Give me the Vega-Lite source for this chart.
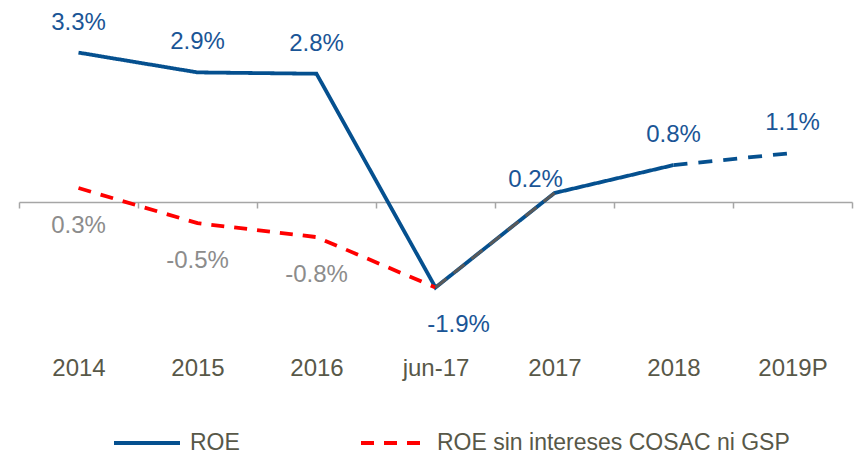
{
  "$schema": "https://vega.github.io/schema/vega-lite/v6.json",
  "width": 833,
  "height": 292.5,
  "autosize": {"type": "none"},
  "padding": {"left": 19, "top": 22, "right": 9, "bottom": 145.5},
  "background": "white",
  "config": {"view": {"stroke": null}, "font": "Liberation Sans"},
  "data": {"values": [
    {"i": 0, "cat": "2014", "series": "ROE", "value": 3.32, "label": "3.3%"},
    {"i": 1, "cat": "2015", "series": "ROE", "value": 2.88, "label": "2.9%"},
    {"i": 2, "cat": "2016", "series": "ROE", "value": 2.85, "label": "2.8%"},
    {"i": 3, "cat": "jun-17", "series": "ROE", "value": -1.9, "label": "-1.9%"},
    {"i": 4, "cat": "2017", "series": "ROE", "value": 0.2, "label": "0.2%"},
    {"i": 5, "cat": "2018", "series": "ROE", "value": 0.82, "label": "0.8%"},
    {"i": 6, "cat": "2019P", "series": "ROE", "value": 1.09, "label": "1.1%"},
    {"i": 0, "cat": "2014", "series": "ROE sin intereses COSAC ni GSP", "value": 0.31, "label": "0.3%"},
    {"i": 1, "cat": "2015", "series": "ROE sin intereses COSAC ni GSP", "value": -0.47, "label": "-0.5%"},
    {"i": 2, "cat": "2016", "series": "ROE sin intereses COSAC ni GSP", "value": -0.78, "label": "-0.8%"},
    {"i": 3, "cat": "jun-17", "series": "ROE sin intereses COSAC ni GSP", "value": -1.9, "label": ""},
    {"i": 4, "cat": "2017", "series": "ROE sin intereses COSAC ni GSP", "value": 0.2, "label": ""}
  ]},
  "encoding": {
    "x": {
      "field": "cat", "type": "ordinal",
      "sort": ["2014", "2015", "2016", "jun-17", "2017", "2018", "2019P"],
      "scale": {"type": "band", "paddingInner": 0, "paddingOuter": 0},
      "axis": {
        "title": null, "orient": "bottom", "offset": -112.5, "tickBand": "extent",
        "domainColor": "#A6A6A6", "domainWidth": 1.5, "tickColor": "#A6A6A6", "tickWidth": 1.5, "tickSize": 6,
        "labelFontSize": 24, "labelColor": "#585848", "labelPadding": 148, "labelAngle": 0, "grid": false
      }
    },
    "y": {
      "field": "value", "type": "quantitative",
      "scale": {"domain": [-2.5, 4], "nice": false, "zero": false},
      "axis": null
    }
  },
  "layer": [
    {
      "transform": [{"filter": "(datum.series == 'ROE' && datum.cat != '2019P') || (datum.series != 'ROE' && datum.cat != '2017')"}],
      "mark": {"type": "line", "strokeWidth": 3.8},
      "encoding": {
        "order": {"field": "i", "type": "quantitative"},
        "color": {
          "field": "series", "type": "nominal",
          "scale": {"domain": ["ROE", "ROE sin intereses COSAC ni GSP"], "range": ["#05508F", "#FF0000"]},
          "legend": {"title": null, "orient": "none", "legendX": 93, "legendY": 386, "direction": "horizontal",
            "symbolType": "stroke", "symbolSize": 4356, "symbolStrokeWidth": 4, "labelFontSize": 23,
            "labelColor": "#585848", "labelOffset": 8, "columnPadding": 113, "labelLimit": 500}
        },
        "strokeDash": {
          "field": "series", "type": "nominal",
          "scale": {"domain": ["ROE", "ROE sin intereses COSAC ni GSP"], "range": [[1, 0], [13, 10]]},
          "legend": {"title": null, "orient": "none", "legendX": 93, "legendY": 386, "direction": "horizontal",
            "symbolType": "stroke", "symbolSize": 4356, "symbolStrokeWidth": 4, "labelFontSize": 23,
            "labelColor": "#585848", "labelOffset": 8, "columnPadding": 113, "labelLimit": 500}
        }
      }
    },
    {
      "transform": [{"filter": "datum.series == 'ROE' && (datum.cat == '2018' || datum.cat == '2019P')"}],
      "mark": {"type": "line", "strokeWidth": 3.8, "color": "#05508F", "strokeDash": [14, 11]},
      "encoding": {"order": {"field": "i", "type": "quantitative"}}
    },
    {
      "transform": [{"filter": "datum.series != 'ROE' && (datum.cat == 'jun-17' || datum.cat == '2017')"}],
      "mark": {"type": "line", "strokeWidth": 3, "color": "#595959", "strokeDash": [14, 9]},
      "encoding": {"order": {"field": "i", "type": "quantitative"}}
    },
    {
      "transform": [{"filter": "datum.series == 'ROE' && indexof(['2014','2015','2016','2018','2019P'], datum.cat) >= 0"}],
      "mark": {"type": "text", "fontSize": 24, "color": "#1A5596", "align": "center", "baseline": "alphabetic", "dy": -23},
      "encoding": {"text": {"field": "label"}}
    },
    {
      "transform": [{"filter": "datum.series == 'ROE' && datum.cat == '2017'"}],
      "mark": {"type": "text", "fontSize": 24, "color": "#1A5596", "align": "center", "baseline": "alphabetic", "dx": -19, "dy": -6},
      "encoding": {"text": {"field": "label"}}
    },
    {
      "transform": [{"filter": "datum.series == 'ROE' && datum.cat == 'jun-17'"}],
      "mark": {"type": "text", "fontSize": 24, "color": "#1A5596", "align": "center", "baseline": "alphabetic", "dx": 23, "dy": 44},
      "encoding": {"text": {"field": "label"}}
    },
    {
      "transform": [{"filter": "datum.series != 'ROE' && datum.i <= 2"}],
      "mark": {"type": "text", "fontSize": 24, "color": "#8C8C8C", "align": "center", "baseline": "alphabetic", "dy": 45},
      "encoding": {"text": {"field": "label"}}
    }
  ]
}
